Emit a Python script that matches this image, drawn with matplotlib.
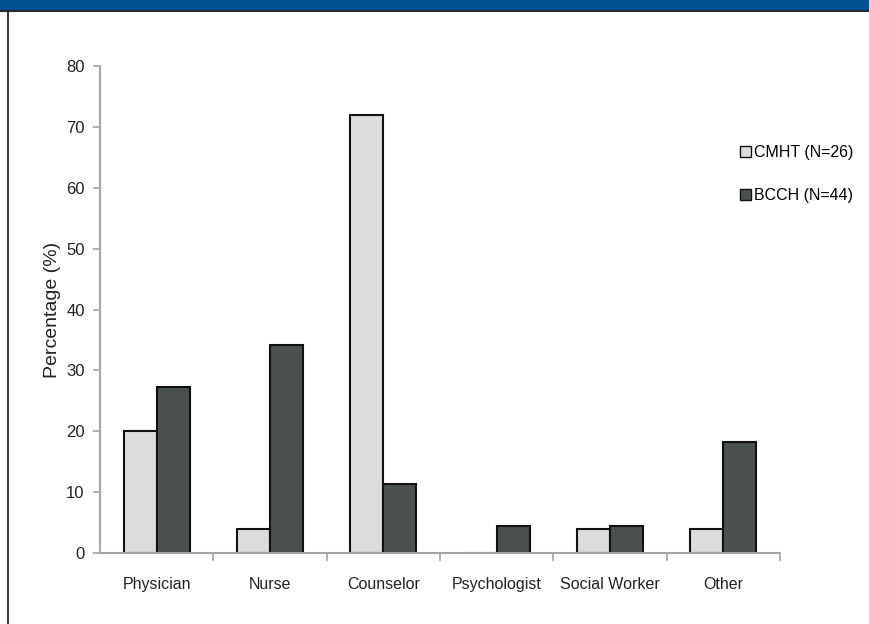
import numpy as np
import matplotlib.pyplot as plt
from matplotlib.patches import Rectangle, Patch
from matplotlib.lines import Line2D

plt.rcParams['font.family'] = ['Liberation Sans', 'DejaVu Sans']

# professions and the share of each team (%)
roles = ['Physician', 'Nurse', 'Counselor', 'Psychologist', 'Social Worker', 'Other']
cmht = [20, 4, 72, 0, 4, 4]
bcch = [27.3, 34.1, 11.4, 4.5, 4.5, 18.2]
series_names = ['CMHT (N=26)', 'BCCH (N=44)']

light = '#dcdcdc'
dark = '#4b5051'
axis_grey = '#a6a6a6'
text_col = '#222222'

fig = plt.figure(figsize=(8.69, 6.24), dpi=100)

# blue banner and frame lines
fig.add_artist(Rectangle((0, 1 - 10/624), 1, 10/624, transform=fig.transFigure,
                         facecolor='#00538f', edgecolor='none'))
fig.add_artist(Line2D([0, 1], [1 - 11/624, 1 - 11/624], transform=fig.transFigure,
                      color='#2a2a2a', lw=1.5))
fig.add_artist(Line2D([8/869, 8/869], [0, 1 - 11/624], transform=fig.transFigure,
                      color='#111111', lw=1.2))

ax = fig.add_axes([100/869, 1 - 553/624, 680/869, 487/624])

x = np.arange(len(roles))
w = 0.29
ax.bar(x - w/2, cmht, w, color=light, edgecolor='#111111', linewidth=1.5, zorder=2)
ax.bar(x + w/2, bcch, w, color=dark, edgecolor='#111111', linewidth=1.5, zorder=2)

ax.set_xlim(-0.5, 5.5)
ax.set_ylim(0, 80)
ax.set_yticks(np.arange(0, 81, 10))
ax.set_xticks(x)
ax.set_xticklabels(roles)
ax.set_xticks(np.arange(0.5, 6, 1), minor=True)

for s in ['top', 'right']:
    ax.spines[s].set_visible(False)
for s in ['left', 'bottom']:
    ax.spines[s].set_color(axis_grey)
    ax.spines[s].set_linewidth(1.5)
    ax.spines[s].set_zorder(3)

ax.tick_params(axis='y', colors=axis_grey, length=5, width=1.2, pad=6,
               labelsize=12, labelcolor=text_col)
ax.tick_params(axis='x', which='major', length=0, pad=17, labelsize=11.5,
               labelcolor=text_col)
ax.tick_params(axis='x', which='minor', length=6, width=1.2, color=axis_grey)

ax.set_ylabel('Percentage (%)', fontsize=14, color=text_col, labelpad=4)

handles = [Patch(facecolor=light, edgecolor='#111111', linewidth=1),
           Patch(facecolor=dark, edgecolor='#111111', linewidth=1)]
ax.legend(handles, series_names, loc='upper left',
          bbox_to_anchor=(740/869, 1 - 145/624), bbox_transform=fig.transFigure,
          frameon=False, fontsize=11.5, handlelength=0.7, handleheight=0.7,
          handletextpad=0.15, labelspacing=1.75, borderpad=0, borderaxespad=0)

fig.savefig('out.png', dpi=100)
